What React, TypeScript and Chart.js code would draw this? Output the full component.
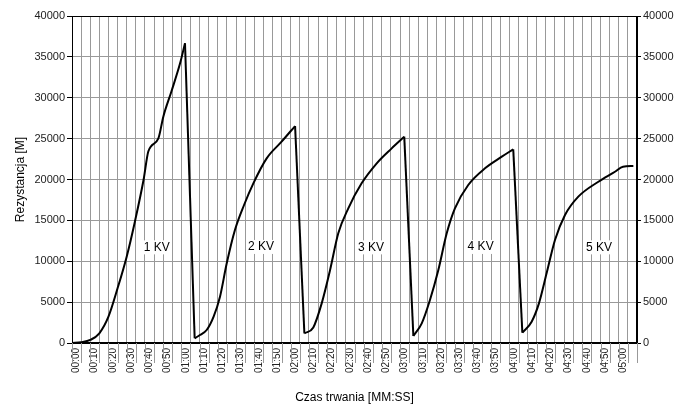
import React, { useEffect, useRef } from "react";
import { Chart, registerables } from "chart.js";

Chart.register(...registerables);

// elapsed time in seconds
const timeSec = [
  0, 5, 10, 15, 20, 25, 30, 34.5, 39.3, 41.9, 47.4, 50.1, 54.5, 59.3, 62,
  67.3, 70.2, 73.9, 77.7, 81.2, 84.9, 89.4, 94.4, 99.5, 106.8, 115, 122.4,
  127.5, 132.4, 137, 141.6, 146.1, 151.6, 158.9, 167.2, 175.4, 182.3,
  187.3, 191.9, 196.4, 201, 205.6, 210.1, 217.4, 226.6, 235.8, 242.1,
  247.1, 252.2, 256.2, 260.4, 265, 270.5, 277.8, 288.8, 297.9, 302.3, 308,
];

// resistance values
const resistance = [
  0, 100, 370, 1190, 3220, 6690, 10560, 14840, 20000, 23450, 25040, 27690, 30740, 34210, 36660,
  570, 980, 1590, 3220, 5660, 9750, 13820, 16880, 19530, 22590, 24630, 26540,
  1180, 1910, 4850, 8930, 13420, 16470, 19530, 21980, 23810, 25240,
  860, 2410, 5260, 8930, 13420, 16470, 19330, 21370, 22790, 23690,
  1260, 2610, 4850, 8520, 12600, 15660, 17900, 19730, 20950, 21570, 21650,
];

const stageLabels = ["1 KV", "2 KV", "3 KV", "4 KV", "5 KV"];
const stageLabelTime = [46.5, 103.7, 164, 224.2, 289.2];
const stageLabelValue = [11700, 11750, 11700, 11750, 11700];

const yTicks = [0, 5000, 10000, 15000, 20000, 25000, 30000, 35000, 40000];

const fmtTime = (s: number) => {
  const m = Math.floor(s / 60);
  const sec = Math.round(s % 60);
  return String(m).padStart(2, "0") + ":" + String(sec).padStart(2, "0");
};

const FONT = "'Liberation Sans', Arial, sans-serif";

function buildDatasets() {
  const pts = timeSec.map((t, i) => ({ x: t, y: resistance[i] }));
  const sets: any[] = [];
  let start = 0;
  const base = { borderColor: "#000", borderWidth: 2, pointRadius: 0, fill: false, yAxisID: "y" };
  for (let i = 0; i < pts.length - 1; i++) {
    if (pts[i + 1].y < pts[i].y - 10000) {
      sets.push({ ...base, data: pts.slice(start, i + 1), cubicInterpolationMode: "monotone" });
      sets.push({ ...base, data: [pts[i], pts[i + 1]], tension: 0 });
      start = i + 1;
    }
  }
  sets.push({ ...base, data: pts.slice(start), cubicInterpolationMode: "monotone" });
  return sets;
}

export default function App() {
  const ref = useRef<HTMLCanvasElement | null>(null);

  useEffect(() => {
    if (!ref.current) return;
    const annotations = {
      id: "stageLabels",
      afterDatasetsDraw(chart: any) {
        const { ctx, scales } = chart;
        const a = chart.chartArea;
        ctx.save();
        // extended tick marks below the x axis
        ctx.strokeStyle = "#999";
        ctx.lineWidth = 1;
        for (let v = 0; v <= 310; v += 5) {
          const x = Math.round(scales.x.getPixelForValue(v)) + 0.5;
          ctx.beginPath();
          ctx.moveTo(x, a.bottom);
          ctx.lineTo(x, a.bottom + 20);
          ctx.stroke();
        }
        ctx.font = "12px " + FONT;
        ctx.textAlign = "center";
        ctx.textBaseline = "middle";
        stageLabels.forEach((t, i) => {
          const x = scales.x.getPixelForValue(stageLabelTime[i]);
          const y = scales.y.getPixelForValue(stageLabelValue[i]);
          const w = ctx.measureText(t).width;
          ctx.fillStyle = "#ffffff";
          ctx.fillRect(x - w / 2 - 2, y - 7, w + 4, 14);
          ctx.fillStyle = "#000000";
          ctx.fillText(t, x, y);
        });
        ctx.strokeStyle = "#000";
        ctx.strokeRect(Math.round(a.left) + 0.5, Math.round(a.top) + 0.5, Math.round(a.right - a.left) - 1, Math.round(a.bottom - a.top) - 1);
        ctx.restore();
      },
    };

    const yTickOpts = {
      stepSize: 5000,
      font: { family: FONT, size: 11 },
      color: "#222",
      callback: (v: any) => (yTicks.includes(v) ? String(v) : ""),
    };

    const chart = new Chart(ref.current, {
      type: "line",
      data: { datasets: buildDatasets() },
      options: {
        animation: false,
        responsive: false,
        devicePixelRatio: 1,
        layout: { padding: { top: 16, left: 0, right: 0, bottom: 0 } },
        plugins: { legend: { display: false }, tooltip: { enabled: false } },
        scales: {
          x: {
            type: "linear",
            min: 0,
            max: 310,
            afterFit: (s: any) => {
              s.height = 65;
            },
            afterBuildTicks: (s: any) => {
              const arr = [];
              for (let v = 0; v <= 310; v += 5) arr.push({ value: v });
              s.ticks = arr;
            },
            grid: { color: "#999", lineWidth: 1, drawTicks: false },
            border: { color: "#000" },
            ticks: {
              autoSkip: false,
              minRotation: 90,
              maxRotation: 90,
              labelOffset: 4.5,
              padding: 5,
              font: { family: FONT, size: 10 },
              color: "#222",
              callback: (v: any) => (v % 10 === 0 && v <= 300 ? fmtTime(v) : ""),
            },
            title: {
              display: true,
              text: "Czas trwania [MM:SS]",
              font: { family: FONT, size: 12 },
              color: "#000",
              padding: { top: 0, bottom: 3 },
            },
          },
          y: {
            type: "linear",
            position: "left",
            min: 0,
            max: 40000,
            afterFit: (s: any) => {
              s.width = 72;
            },
            grid: { color: "#999", tickLength: 5, tickColor: "#000" },
            border: { color: "#000" },
            ticks: { ...yTickOpts, padding: 2 },
            title: {
              display: true,
              text: "Rezystancja [M]",
              font: { family: FONT, size: 12 },
              color: "#000",
              padding: { top: 13, bottom: 0 },
            },
          },
          y2: {
            type: "linear",
            position: "right",
            min: 0,
            max: 40000,
            afterFit: (s: any) => {
              s.width = 49;
            },
            grid: { drawOnChartArea: false, tickLength: 4, tickColor: "#000" },
            border: { color: "#000" },
            ticks: { ...yTickOpts, padding: 2 },
          },
        },
      },
      plugins: [annotations],
    } as any);

    return () => chart.destroy();
  }, []);

  return (
    <div style={{ position: "fixed", left: 0, top: 0, width: 686, height: 408, background: "#fff" }}>
      <canvas ref={ref} width={686} height={408} style={{ display: "block" }} />
    </div>
  );
}
